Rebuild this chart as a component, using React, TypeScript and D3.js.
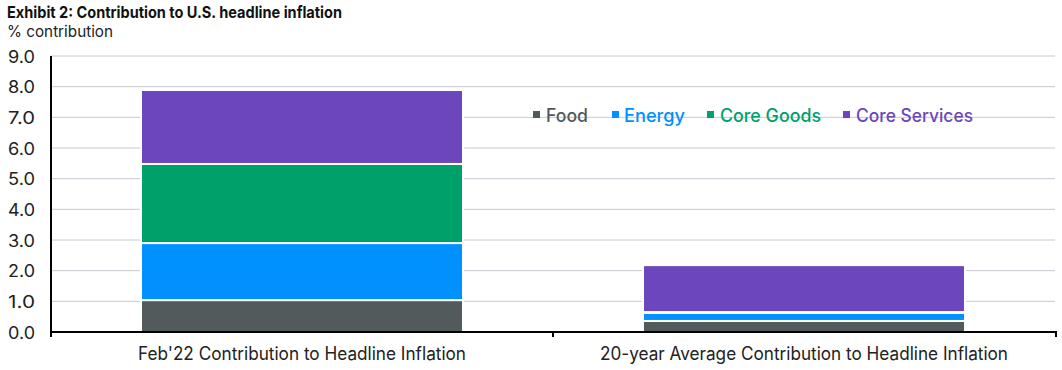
import React from "react";
import * as d3 from "d3";

const categories = [
  "Feb'22 Contribution to Headline Inflation",
  "20-year Average Contribution to Headline Inflation",
];
const seriesNames = ["Food", "Energy", "Core Goods", "Core Services"];
const food = [1.04, 0.36];
const energy = [1.86, 0.26];
const coreGoods = [2.58, 0.03];
const coreServices = [2.41, 1.53];
const yTicks = [0, 1, 2, 3, 4, 5, 6, 7, 8, 9];
const colors = ["#525a5c", "#0091ff", "#00a06a", "#6b46bd"];

const W = 1062;
const H = 370;
const FONT = "Inter, 'Liberation Sans', sans-serif";

export default function App() {
  const rows = categories.map((c, i) => ({
    cat: c,
    Food: food[i],
    Energy: energy[i],
    "Core Goods": coreGoods[i],
    "Core Services": coreServices[i],
  }));
  const stack = d3.stack<any>().keys(seriesNames)(rows);
  const x = d3
    .scaleBand<string>()
    .domain(categories)
    .range([51, 1055])
    .paddingInner(0.3586)
    .paddingOuter(0.1793);
  const y = d3.scaleLinear().domain([0, 9]).range([332, 56]);
  const step = x.step();
  const dividers = [
    x.range()[0],
    ...categories.map((c) => (x(c) as number) + x.bandwidth() + (step * x.paddingInner()) / 2),
  ];
  dividers[dividers.length - 1] = x.range()[1] + 1;

  const legendItems = [
    { name: "Food", sx: 533, tx: 546 },
    { name: "Energy", sx: 612, tx: 624 },
    { name: "Core Goods", sx: 707, tx: 720 },
    { name: "Core Services", sx: 843, tx: 856 },
  ];
  const legendWidths = [42, 61, 101, 117];
  const legendY = 115;

  return (
    <svg width={W} height={H} style={{ position: "absolute", left: 0, top: 0 }} fontFamily={FONT}>
      <rect width={W} height={H} fill="#fff" />
      <text x={7} y={17.5} fontSize={16} fontWeight={700} fill="#111" textLength={335} lengthAdjust="spacingAndGlyphs">
        Exhibit 2: Contribution to U.S. headline inflation
      </text>
      <text x={7} y={37} fontSize={15.5} fill="#222" textLength={106} lengthAdjust="spacingAndGlyphs">
        % contribution
      </text>
      {yTicks.filter((t) => t > 0).map((t) => (
        <line key={t} x1={51} x2={1055} y1={y(t)} y2={y(t)} stroke="#c8c8d2" strokeWidth={1} />
      ))}
      {yTicks.map((t) => (
        <text key={t} x={35} y={y(t) + 6.5} fontSize={17} textAnchor="end" fill="#222" textLength={27} lengthAdjust="spacingAndGlyphs">
          {t.toFixed(1)}
        </text>
      ))}
      {stack.map((s, si) => (
        <g key={s.key}>
          {s.map((d, i) => (
            <rect
              key={i}
              x={x(categories[i])}
              width={x.bandwidth()}
              y={y(d[1])}
              height={Math.max(0, y(d[0]) - y(d[1]))}
              fill={colors[si]}
              stroke="#fff"
              strokeWidth={2}
            />
          ))}
        </g>
      ))}
      {legendItems.map((l, i) => (
        <g key={l.name}>
          <rect x={l.sx} y={legendY - 4} width={7} height={7} fill={colors[i]} />
          <text
            x={l.tx}
            y={legendY + 6.5}
            fontSize={18}
            fontWeight={500}
            fill={colors[i]}
            textLength={legendWidths[i]}
            lengthAdjust="spacingAndGlyphs"
          >
            {l.name}
          </text>
        </g>
      ))}
      <line x1={51} x2={51} y1={56} y2={336} stroke="#000" strokeWidth={2} />
      <line x1={50} x2={1057} y1={332} y2={332} stroke="#000" strokeWidth={2} />
      {dividers.map((dx, i) => (
        <line key={i} x1={dx} x2={dx} y1={332} y2={337} stroke="#000" strokeWidth={2} />
      ))}
      {categories.map((c, i) => (
        <text
          key={c}
          x={(x(c) as number) + x.bandwidth() / 2}
          y={360}
          fontSize={18}
          textAnchor="middle"
          fill="#222"
          textLength={i === 0 ? 328 : 408}
          lengthAdjust="spacingAndGlyphs"
        >
          {c}
        </text>
      ))}
    </svg>
  );
}
